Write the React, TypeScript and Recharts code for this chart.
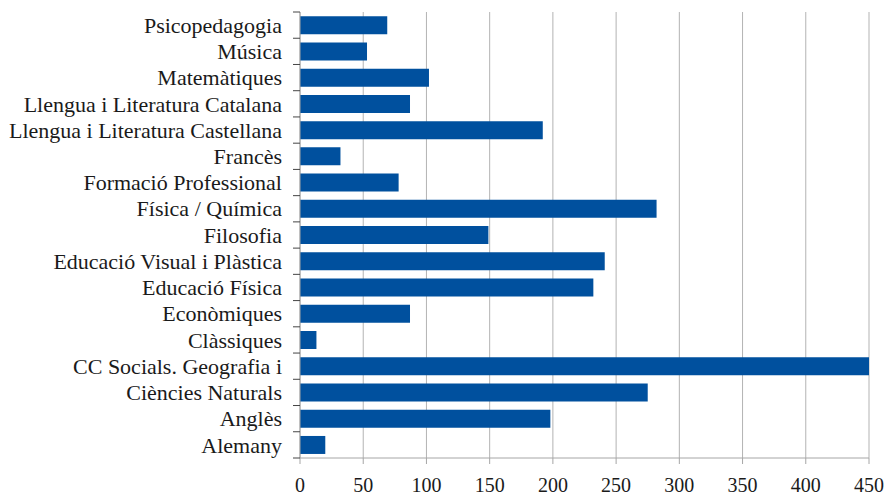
import { BarChart, Bar, XAxis, YAxis, CartesianGrid } from 'recharts'

const subjects = [
  'Psicopedagogia',
  'Música',
  'Matemàtiques',
  'Llengua i Literatura Catalana',
  'Llengua i Literatura Castellana',
  'Francès',
  'Formació Professional',
  'Física / Química',
  'Filosofia',
  'Educació Visual i Plàstica',
  'Educació Física',
  'Econòmiques',
  'Clàssiques',
  'CC Socials. Geografia i',
  'Ciències Naturals',
  'Anglès',
  'Alemany',
]

const counts = [69, 53, 102, 87, 192, 32, 78, 282, 149, 241, 232, 87, 13, 450, 275, 198, 20]

const xTicks = [0, 50, 100, 150, 200, 250, 300, 350, 400, 450]

const W = 886
const H = 495
const TOP = 12
const BOTTOM = 37
const AXIS_X = 300
const BAND = (H - TOP - BOTTOM) / subjects.length

const FONT = "'Liberation Serif', 'DejaVu Serif', serif"

function SubjectTick(props: any) {
  const { y, payload, index } = props
  const last = index === subjects.length - 1
  return (
    <g>
      <line x1={AXIS_X - 7} x2={AXIS_X} y1={y - BAND / 2} y2={y - BAND / 2} stroke="#444" />
      {last && <line x1={AXIS_X - 7} x2={AXIS_X} y1={y + BAND / 2} y2={y + BAND / 2} stroke="#444" />}
      <text
        x={AXIS_X - 18}
        y={y}
        dy="0.35em"
        textAnchor="end"
        style={{ fontFamily: FONT, fontSize: 22 }}
        fill="#1a1a1a"
      >
        {payload.value}
      </text>
    </g>
  )
}

export default function App() {
  const data = subjects.map((s, i) => ({ subject: s, value: counts[i] }))

  return (
    <div style={{ position: 'absolute', left: 0, top: 0, background: '#fff', fontFamily: FONT }}>
      <BarChart
        width={W}
        height={H}
        data={data}
        layout="vertical"
        margin={{ top: TOP, right: 17, bottom: 0, left: 0 }}
        barCategoryGap="16%"
      >
        <CartesianGrid horizontal={false} stroke="#b3b3b3" />
        <XAxis
          type="number"
          domain={[0, 450]}
          ticks={xTicks}
          allowDataOverflow
          height={BOTTOM}
          stroke="#a6a6a6"
          tickSize={6}
          tickMargin={14}
          tick={{ style: { fontFamily: FONT, fontSize: 20 }, fill: '#1a1a1a' }}
          interval={0}
        />
        <XAxis
          xAxisId="top"
          orientation="top"
          type="number"
          domain={[0, 450]}
          height={0}
          tick={false}
          tickLine={false}
          stroke="#b3b3b3"
        />
        <YAxis
          type="category"
          dataKey="subject"
          width={AXIS_X}
          stroke="#a6a6a6"
          tickLine={false}
          tick={<SubjectTick />}
          interval={0}
        />
        <Bar dataKey="value" fill="#00509e" isAnimationActive={false} />
      </BarChart>
    </div>
  )
}
